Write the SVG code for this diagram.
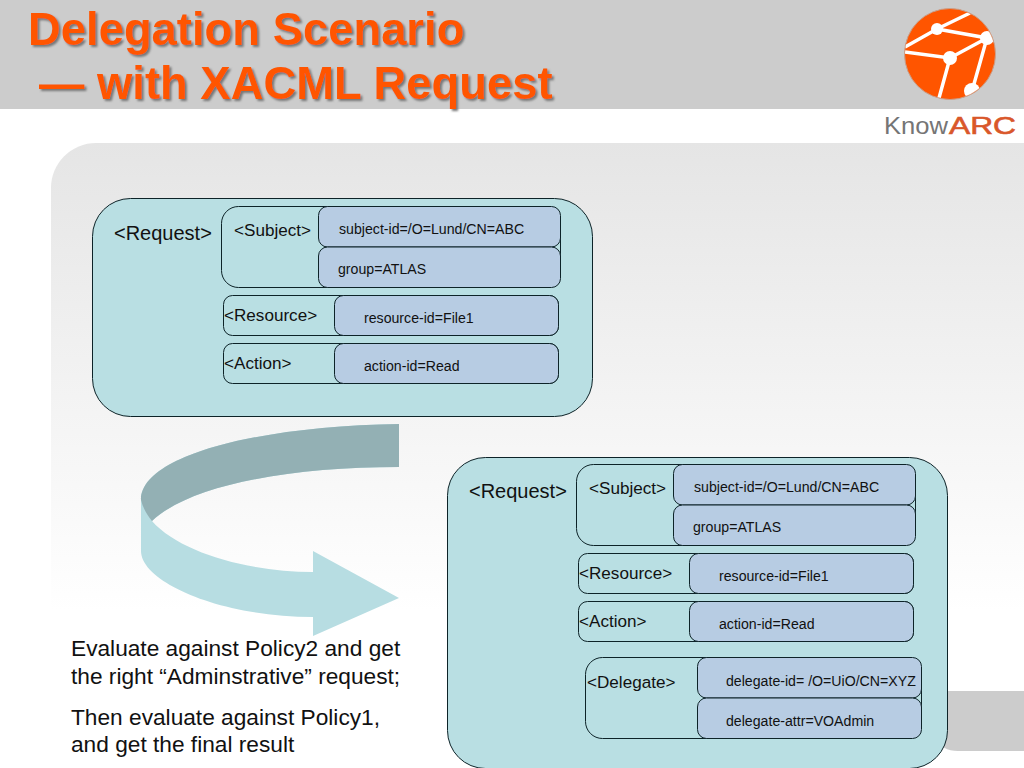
<svg xmlns="http://www.w3.org/2000/svg" width="1024" height="768" viewBox="0 0 1024 768">
<style>
text{font-family:"Liberation Sans",Arial,sans-serif;fill:#111}
.title{font-size:45.4px;font-weight:bold;fill:#ff5500;filter:url(#sh)}
.box{fill:#b9dfe3;stroke:#0d2328;stroke-width:1}
.val{fill:#b7cce3;stroke:#0d2328;stroke-width:1}
.k{font-size:17.1px}.v{font-size:14.15px}.b{font-size:20px}
</style>
<defs>
<linearGradient id="bg" x1="0" y1="0" x2="0" y2="1"><stop offset="0" stop-color="#e5e5e5"/><stop offset="0.75" stop-color="#ffffff"/></linearGradient>
<filter id="sh" x="-5%" y="-20%" width="110%" height="140%"><feDropShadow dx="2" dy="2" stdDeviation="0.8" flood-color="#777"/></filter>
<clipPath id="disc"><circle cx="950" cy="54" r="45"/></clipPath>
</defs>
<rect width="1024" height="768" fill="#fff"/>
<rect width="1024" height="109" fill="#cccccc"/>
<path d="M51 768V188a45 45 0 0 1 45-45H1024V768Z" fill="url(#bg)"/>
<path d="M930 691H1024V751H958Q942 751 935 738Z" fill="#cccccc"/>
<text class="title" x="28" y="45">Delegation Scenario</text>
<text class="title" x="39" y="99">— with XACML Request</text>
<g id="logo">
<circle cx="950" cy="54" r="45.500" fill="#ff5500" stroke="#c9a08c" stroke-width="1"/>
<g clip-path="url(#disc)">
<g stroke="#fff" stroke-width="3.500" fill="none"><path d="M905 47L937 29L970 13M937 29L987 38L972 91M905 52L950 58L987 38M950 58L939 98"/></g>
<g fill="#fff"><circle cx="937" cy="29" r="6"/><circle cx="987" cy="38" r="7"/><circle cx="950" cy="58" r="7"/><circle cx="972" cy="91" r="8"/></g>
</g>
<text x="884" y="134" font-size="24" textLength="64" lengthAdjust="spacingAndGlyphs" style="fill:#757575">Know</text>
<text x="949" y="134" font-size="24" textLength="67" lengthAdjust="spacingAndGlyphs" style="fill:#d9572a;stroke:#d9572a;stroke-width:0.6">ARC</text>
</g>
<g id="curved-arrow">
<path d="M399 424C260 426 141 455 141 500V551C141 582 220 617 313 617V636L399 598L313 551V572C250 572 180 553 152 521C190 485 290 467 399 467Z" fill="#b7dde2"/>
<path d="M399 424C260 426 141 455 141 500C143 508 147 515 152 521C190 485 290 467 399 467Z" fill="#93b0b4"/>
</g>
<g id="request-1">
<rect class="box" x="92.500" y="198.500" width="500" height="218" rx="38"/>
<text class="b" x="114" y="240">&lt;Request&gt;</text>
</g>
<g id="subject-1">
<rect class="box" x="221.500" y="206.500" width="339" height="81" rx="17"/>
<text class="k" x="234" y="236">&lt;Subject&gt;</text>
<rect class="val" x="318.500" y="206.500" width="242" height="40.500" rx="9"/>
<text class="v" x="339" y="234">subject-id=/O=Lund/CN=ABC</text>
<rect class="val" x="318.500" y="247" width="242" height="40.500" rx="9"/>
<text class="v" x="338" y="274">group=ATLAS</text>
</g>
<g id="resource-1">
<rect class="box" x="223.500" y="295.500" width="335" height="40" rx="9"/>
<text class="k" x="224" y="321">&lt;Resource&gt;</text>
<rect class="val" x="334.500" y="295.500" width="224" height="40" rx="9"/>
<text class="v" x="364" y="323">resource-id=File1</text>
</g>
<g id="action-1">
<rect class="box" x="223.500" y="343.500" width="335" height="40" rx="9"/>
<text class="k" x="224" y="369">&lt;Action&gt;</text>
<rect class="val" x="334.500" y="343.500" width="224" height="40" rx="9"/>
<text class="v" x="364" y="371">action-id=Read</text>
</g>
<g id="request-2">
<rect class="box" x="447.500" y="457.500" width="500" height="311" rx="38"/>
<text class="b" x="469" y="498">&lt;Request&gt;</text>
</g>
<g id="subject-2">
<rect class="box" x="576.500" y="464.500" width="339" height="81" rx="17"/>
<text class="k" x="589" y="494">&lt;Subject&gt;</text>
<rect class="val" x="673.500" y="464.500" width="242" height="40.500" rx="9"/>
<text class="v" x="694" y="492">subject-id=/O=Lund/CN=ABC</text>
<rect class="val" x="673.500" y="505" width="242" height="40.500" rx="9"/>
<text class="v" x="693" y="532">group=ATLAS</text>
</g>
<g id="resource-2">
<rect class="box" x="578.500" y="553.500" width="335" height="40" rx="9"/>
<text class="k" x="579" y="579">&lt;Resource&gt;</text>
<rect class="val" x="689.500" y="553.500" width="224" height="40" rx="9"/>
<text class="v" x="719" y="581">resource-id=File1</text>
</g>
<g id="action-2">
<rect class="box" x="578.500" y="601.500" width="335" height="40" rx="9"/>
<text class="k" x="579" y="627">&lt;Action&gt;</text>
<rect class="val" x="689.500" y="601.500" width="224" height="40" rx="9"/>
<text class="v" x="719" y="629">action-id=Read</text>
</g>
<g id="delegate">
<rect class="box" x="585.500" y="657.500" width="336" height="81" rx="17"/>
<text class="k" x="587" y="688">&lt;Delegate&gt;</text>
<rect class="val" x="697.500" y="657.500" width="224" height="40.500" rx="9"/>
<text class="v" x="726" y="686">delegate-id= /O=UiO/CN=XYZ</text>
<rect class="val" x="697.500" y="698" width="224" height="40.500" rx="9"/>
<text class="v" x="726" y="726">delegate-attr=VOAdmin</text>
</g>
<g id="caption" font-size="22.7">
<text x="71" y="656">Evaluate against Policy2 and get</text>
<text x="71" y="684">the right “Adminstrative” request;</text>
<text x="71" y="725">Then evaluate against Policy1,</text>
<text x="71" y="752">and get the final result</text>
</g>
</svg>
